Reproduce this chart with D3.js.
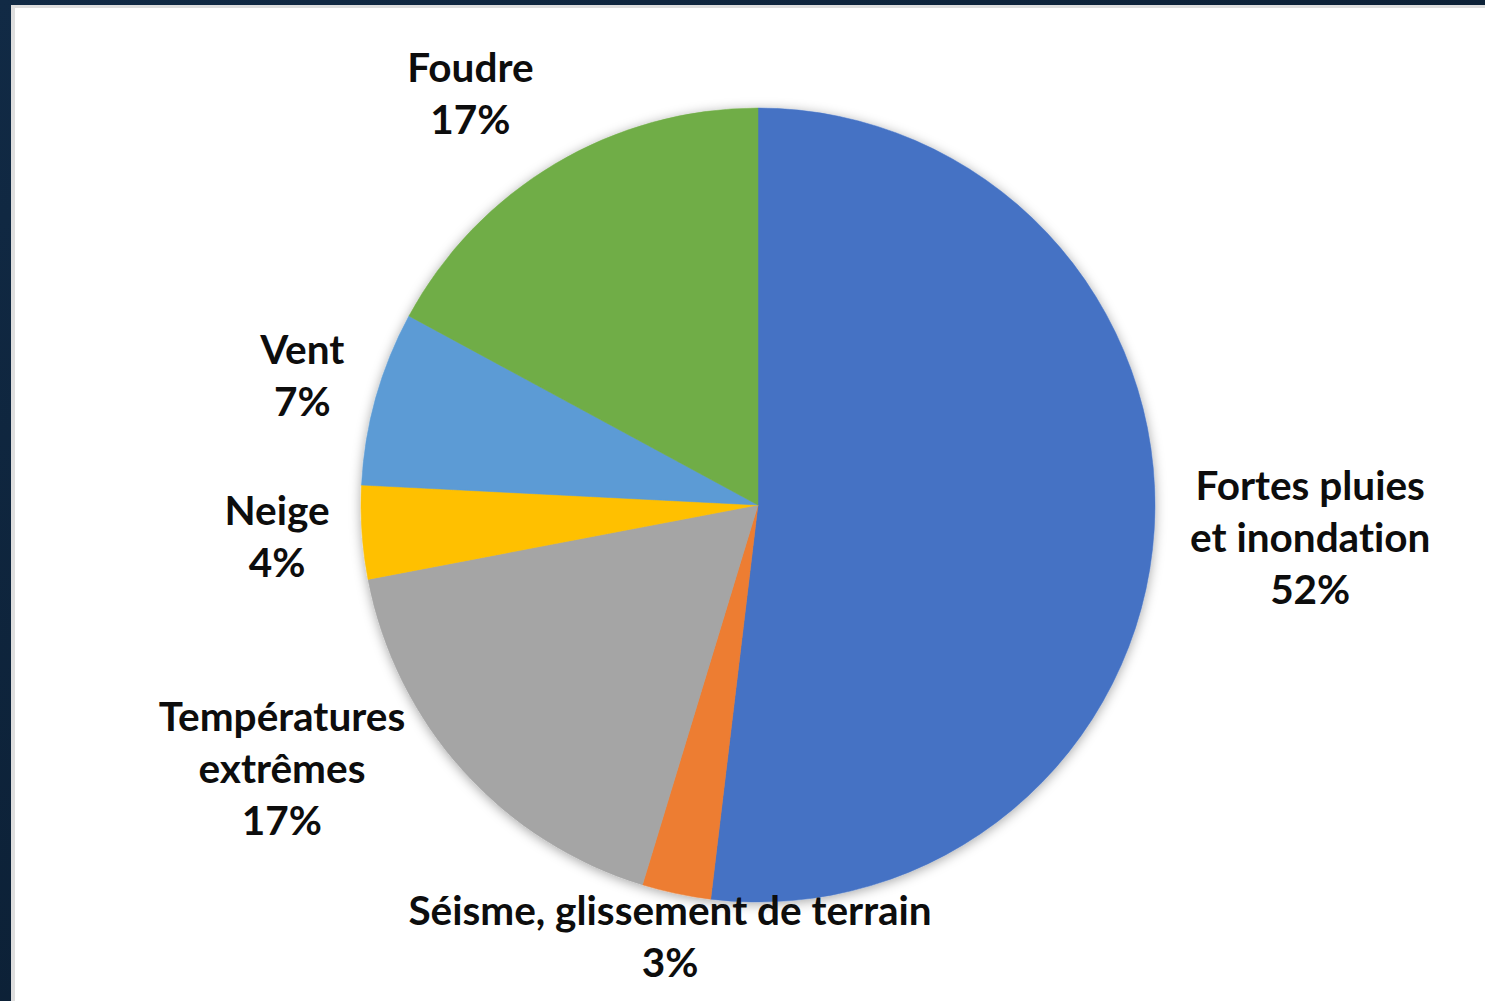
<html>
<head>
<meta charset="utf-8"/>
<title>Répartition</title>
<script src="https://d3js.org/d3.v7.min.js"></script>
<style>
  body { margin: 0; background: #0f2540; }
  .lbl { font-family: Lato, "Open Sans", sans-serif; font-weight: 700; font-size: 40.5px; fill: #0d0d0d; font-variant-ligatures: none; }
</style>
</head>
<body>
<div id="chart"></div>
<script>

// data (share of events, %)
var categories = ["Fortes pluies|et inondation", "Séisme, glissement de terrain", "Températures|extrêmes", "Neige", "Vent", "Foudre"];
var values = [51.9, 2.8, 17.3, 3.8, 7.1, 17.1];
var colors = ["#4472C4", "#ED7D31", "#A5A5A5", "#FFC000", "#5B9BD5", "#70AD47"];

// label nudges from the slice's outer point (layout only)
var labelNudge = [[116, 7], [2, 4], [-151, -28], [-45, 2], [-35, -11], [-64, -36]];

var W = 1485, H = 1001;
var cx = 758, cy = 505, R = 397;

var svg = d3.select("#chart").append("svg").attr("width", W).attr("height", H);

var defs = svg.append("defs");
var bgGrad = defs.append("linearGradient").attr("id", "bg").attr("x1", 0).attr("y1", 0).attr("x2", 1).attr("y2", 1);
bgGrad.append("stop").attr("offset", "0%").attr("stop-color", "#112a45");
bgGrad.append("stop").attr("offset", "100%").attr("stop-color", "#081829");

var shadow = defs.append("filter").attr("id", "shadow").attr("x", "-20%").attr("y", "-20%").attr("width", "140%").attr("height", "140%");
shadow.append("feDropShadow").attr("dx", 0).attr("dy", 2).attr("stdDeviation", 6).attr("flood-color", "#000").attr("flood-opacity", 0.35);

// slide background + light frame
svg.append("rect").attr("width", W).attr("height", H).style("fill", "url(#bg)");
svg.append("rect").attr("x", 11).attr("y", 5).attr("width", W - 11).attr("height", H - 5).style("fill", "#dedede");
svg.append("rect").attr("x", 15).attr("y", 8).attr("width", W - 15).attr("height", H - 8).style("fill", "#ffffff");

var pie = d3.pie().sort(null).value(function(d) { return d; });
var arcs = pie(values);
var arc = d3.arc().innerRadius(0).outerRadius(R);

var g = svg.append("g").attr("transform", "translate(" + cx + "," + cy + ")");

g.append("g").attr("filter", "url(#shadow)")
  .selectAll("path")
  .data(arcs)
  .enter().append("path")
  .attr("d", arc)
  .style("fill", function(d, i) { return colors[i]; })
  .style("stroke", function(d, i) { return colors[i]; })
  .style("stroke-width", 0.5);

var labelArc = d3.arc().innerRadius(R + 40).outerRadius(R + 40);
var lineH = 52;

arcs.forEach(function(d, i) {
  var p = labelArc.centroid(d);
  var x = p[0] + labelNudge[i][0], y = p[1] + labelNudge[i][1];
  var lines = categories[i].split("|").concat([Math.round(values[i]) + "%"]);
  var t = g.append("text").attr("class", "lbl").attr("text-anchor", "middle");
  lines.forEach(function(s, k) {
    t.append("tspan").attr("x", x)
      .attr("y", y + (k - (lines.length - 1) / 2) * lineH)
      .attr("dy", "0.35em")
      .text(s);
  });
});

</script>
</body>
</html>
